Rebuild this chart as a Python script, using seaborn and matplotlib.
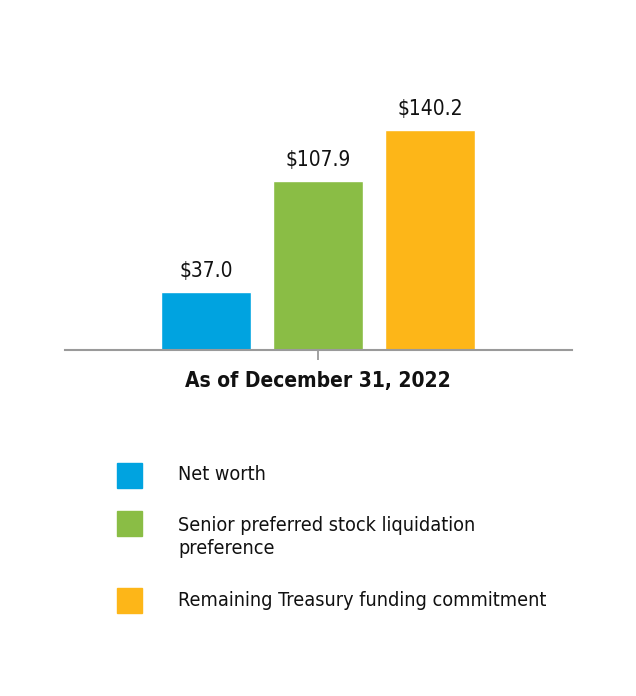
import matplotlib
matplotlib.use("Agg")
import matplotlib.pyplot as plt
import seaborn as sns
import pandas as pd
from matplotlib.patches import Rectangle

categories = ["Net worth", "Senior preferred stock liquidation\npreference",
              "Remaining Treasury funding commitment"]
values = [37.0, 107.9, 140.2]
value_labels = ["$37.0", "$107.9", "$140.2"]
colors = ["#00A3E0", "#8ABD45", "#FDB618"]
xlabel = "As of December 31, 2022"

sns.set_style("white")
plt.rcParams['font.family'] = ['DejaVu Sans']
plt.rcParams['font.stretch'] = 'condensed'

W, H = 636, 696
fig = plt.figure(figsize=(W / 100, H / 100), dpi=100)
ax = fig.add_axes([65 / W, (H - 350) / H, 507 / W, 250 / H])

df = pd.DataFrame({"cat": categories, "val": values})
sns.barplot(data=df, x="cat", y="val", hue="cat", palette=colors, width=0.804,
            legend=False, ax=ax, saturation=1)
ax.set_xlim(-1.259, 3.268)
ax.set_ylim(0, 159.3)
for s in ["top", "right", "left"]:
    ax.spines[s].set_visible(False)
ax.spines["bottom"].set_color("#9a9a9a")
ax.spines["bottom"].set_linewidth(1.5)
ax.set_yticks([])
ax.set_xticks([1])
ax.set_xticklabels([xlabel], fontsize=15, fontweight="bold", color="#111111")
ax.tick_params(axis="x", length=7, width=1.3, color="#9a9a9a", pad=8, bottom=True)
ax.set_xlabel("")
ax.set_ylabel("")

for i, (v, lab) in enumerate(zip(values, value_labels)):
    ax.annotate(lab, (i, v), xytext=(0, 8), textcoords="offset points",
                ha="center", va="bottom", fontsize=15, color="#111111")

# legend
leg_y = [475, 537, 600]
for c, lab, y in zip(colors, categories, leg_y):
    sq_y = y if "\n" not in lab else 523
    fig.add_artist(Rectangle((117 / W, (H - sq_y - 12.5) / H), 25 / W, 25 / H,
                             transform=fig.transFigure, color=c))
    fig.text(178 / W, (H - y) / H, lab, ha="left", va="center",
             fontsize=14.2, color="#111111", linespacing=1.32)

fig.savefig("out.png", dpi=100)
